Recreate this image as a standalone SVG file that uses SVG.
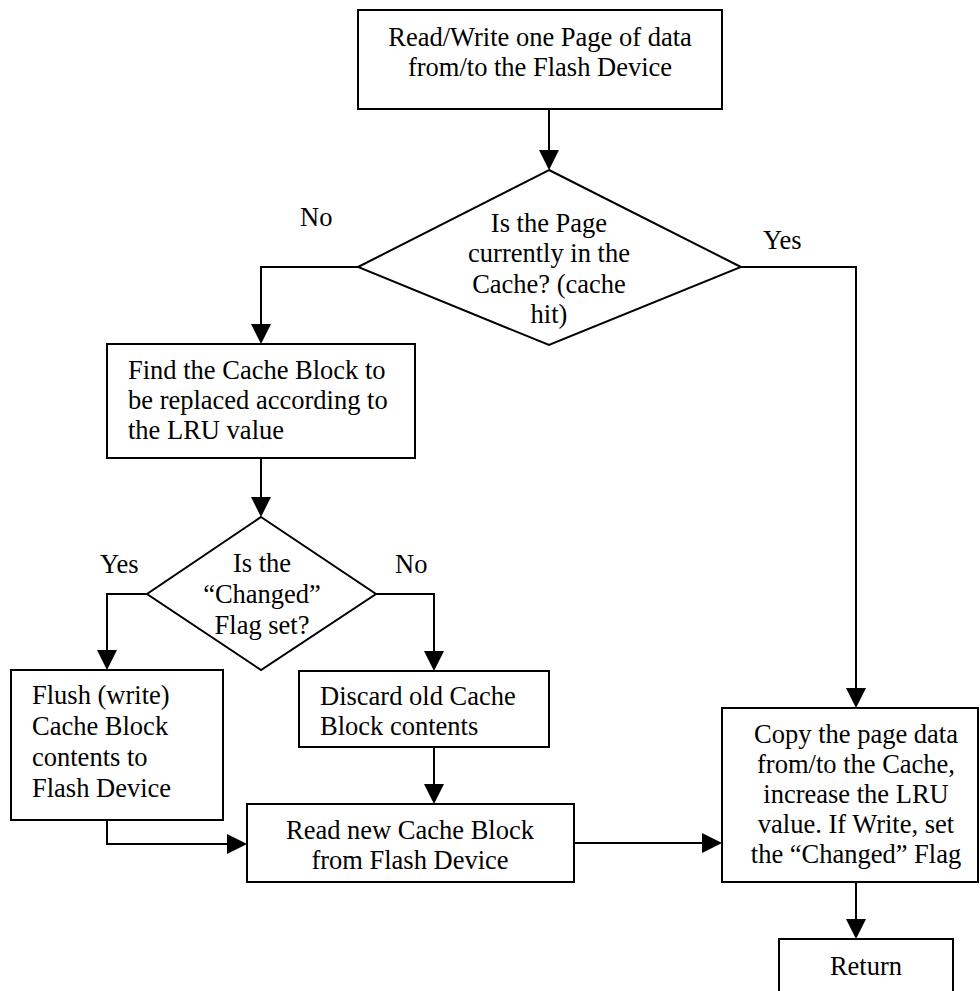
<svg xmlns="http://www.w3.org/2000/svg" width="980" height="991" viewBox="0 0 980 991">
  <style>
    .box { fill: #ffffff; stroke: #000000; stroke-width: 2; }
    .line { fill: none; stroke: #000000; stroke-width: 2; }
    text { font-family: "Liberation Serif", "Times New Roman", serif; font-size: 26.5px; fill: #000000; }
    .c { text-anchor: middle; }
  </style>
  <defs>
    <marker id="arrow" viewBox="0 0 20 20" refX="15" refY="10" markerWidth="20" markerHeight="20" markerUnits="userSpaceOnUse" orient="auto">
      <path d="M0,0 L20,10 L0,20 z" fill="#000000"/>
    </marker>
  </defs>
  <rect width="980" height="991" fill="#ffffff"/>

  <g id="connectors">
    <path class="line" d="M549,109 V165" marker-end="url(#arrow)"/>
    <path class="line" d="M358,267 H261 V339" marker-end="url(#arrow)"/>
    <path class="line" d="M741,267 H856 V703" marker-end="url(#arrow)"/>
    <path class="line" d="M261,458 V512" marker-end="url(#arrow)"/>
    <path class="line" d="M147,594 H107 V665" marker-end="url(#arrow)"/>
    <path class="line" d="M376,594 H434 V666" marker-end="url(#arrow)"/>
    <path class="line" d="M107,820 V844 H242" marker-end="url(#arrow)"/>
    <path class="line" d="M434,747 V799" marker-end="url(#arrow)"/>
    <path class="line" d="M574,843 H717" marker-end="url(#arrow)"/>
    <path class="line" d="M856,882 V934" marker-end="url(#arrow)"/>
    <text x="300" y="226">No</text>
    <text x="763" y="249">Yes</text>
    <text x="100" y="573">Yes</text>
    <text x="395" y="573">No</text>
  </g>

  <g id="start">
    <rect class="box" x="358" y="10" width="364" height="99"/>
    <text class="c" x="540" y="46">Read/Write one Page of data</text>
    <text class="c" x="540" y="76">from/to the Flash Device</text>
  </g>

  <g id="cache-hit">
    <polygon class="box" points="549,170 741,267 549,345 358,267"/>
    <text class="c" x="549" y="232">Is the Page</text>
    <text class="c" x="549" y="262">currently in the</text>
    <text class="c" x="549" y="293">Cache? (cache</text>
    <text class="c" x="549" y="323">hit)</text>
  </g>

  <g id="find-block">
    <rect class="box" x="107" y="344" width="308" height="114"/>
    <text x="128" y="379">Find the Cache Block to</text>
    <text x="128" y="409">be replaced according to</text>
    <text x="128" y="439">the LRU value</text>
  </g>

  <g id="changed-flag">
    <polygon class="box" points="261,517 376,594 261,670 147,594"/>
    <text class="c" x="262" y="572">Is the</text>
    <text class="c" x="262" y="603">“Changed”</text>
    <text class="c" x="262" y="634">Flag set?</text>
  </g>

  <g id="flush">
    <rect class="box" x="11" y="670" width="212" height="150"/>
    <text x="32" y="704">Flush (write)</text>
    <text x="32" y="735">Cache Block</text>
    <text x="32" y="766">contents to</text>
    <text x="32" y="797">Flash Device</text>
  </g>

  <g id="discard">
    <rect class="box" x="299" y="671" width="250" height="76"/>
    <text x="320" y="705">Discard old Cache</text>
    <text x="320" y="735">Block contents</text>
  </g>

  <g id="read-new">
    <rect class="box" x="247" y="804" width="327" height="78"/>
    <text class="c" x="410" y="839">Read new Cache Block</text>
    <text class="c" x="410" y="869">from Flash Device</text>
  </g>

  <g id="copy-page">
    <rect class="box" x="722" y="708" width="256" height="174"/>
    <text class="c" x="856" y="743">Copy the page data</text>
    <text class="c" x="856" y="773">from/to the Cache,</text>
    <text class="c" x="856" y="803">increase the LRU</text>
    <text class="c" x="856" y="833">value. If Write, set</text>
    <text class="c" x="856" y="863">the “Changed” Flag</text>
  </g>

  <g id="return">
    <rect class="box" x="779" y="939" width="174" height="60"/>
    <text class="c" x="866" y="975">Return</text>
  </g>
</svg>
